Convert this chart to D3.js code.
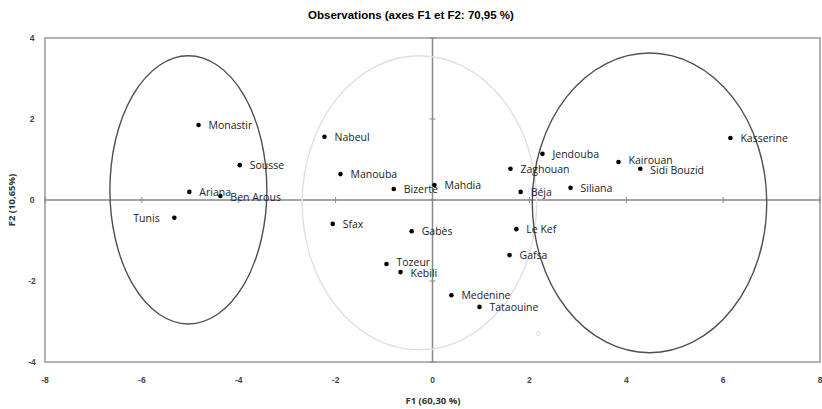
<!DOCTYPE html>
<html><head><meta charset="utf-8">
<script src="https://cdn.jsdelivr.net/npm/d3@7"></script>
<style>body{margin:0;background:#fff}svg{display:block}</style>
</head><body>
<script>
const names = ["Monastir","Sousse","Ariana","Ben Arous","Tunis","Nabeul","Manouba","Bizerte","Mahdia","Sfax","Gabès","Tozeur","Kebili","Medenine","Tataouine","Zaghouan","Jendouba","Béja","Siliana","Kairouan","Sidi Bouzid","Kasserine","Le Kef","Gafsa"];
const f1 = [-4.83,-3.98,-5.02,-4.38,-5.33,-2.23,-1.90,-0.80,0.04,-2.06,-0.43,-0.95,-0.66,0.39,0.97,1.61,2.27,1.82,2.85,3.84,4.29,6.15,1.73,1.59];
const f2 = [1.85,0.86,0.20,0.10,-0.44,1.56,0.64,0.27,0.37,-0.59,-0.77,-1.58,-1.78,-2.35,-2.64,0.77,1.14,0.20,0.30,0.94,0.77,1.53,-0.72,-1.36];
const xTicks = [-8,-6,-4,-2,0,2,4,6,8];
const yTicks = [-4,-2,0,2,4];
// ellipses (data units): centre F1, centre F2, radius F1, radius F2
const ellCx = [-5.04,-0.27,4.48];
const ellCy = [0.25,-0.07,-0.07];
const ellRx = [1.62,2.42,2.42];
const ellRy = [3.31,3.63,3.70];
const ellColor = ["#505050","#e0e0e0","#505050"];

const W=822,H=409;
const svg=d3.select("body").append("svg").attr("width",W).attr("height",H);
const x=d3.scaleLinear().domain([-8,8]).range([45,820]);
const y=d3.scaleLinear().domain([-4,4]).range([362,38]);

svg.append("text").attr("x",411).attr("y",19).attr("text-anchor","middle")
 .attr("font-family","Liberation Sans, Arial").attr("font-weight","bold").attr("font-size",11.5)
 .text("Observations (axes F1 et F2: 70,95 %)");

svg.append("rect").attr("x",x(-8)).attr("y",y(4)).attr("width",x(8)-x(-8)).attr("height",y(-4)-y(4))
 .attr("fill","none").attr("stroke","#999").attr("stroke-width",1.5);

// zero lines
svg.append("line").attr("x1",x(-8)).attr("x2",x(8)).attr("y1",y(0)).attr("y2",y(0)).attr("stroke","#888").attr("stroke-width",1.5);
svg.append("line").attr("x1",x(0)).attr("x2",x(0)).attr("y1",y(4)).attr("y2",y(-4)).attr("stroke","#888").attr("stroke-width",1.5);
svg.selectAll(".xt").data(xTicks).enter().append("line").attr("x1",d=>x(d)).attr("x2",d=>x(d)).attr("y1",y(0)-3).attr("y2",y(0)+3).attr("stroke","#888");
svg.selectAll(".yt").data(yTicks).enter().append("line").attr("y1",d=>y(d)).attr("y2",d=>y(d)).attr("x1",x(0)-3).attr("x2",x(0)+3).attr("stroke","#888");

// tick labels
svg.selectAll(".xl").data(xTicks).enter().append("text").attr("x",d=>x(d)).attr("y",383).attr("text-anchor","middle")
 .attr("font-family","Liberation Sans, Arial").attr("font-size",8.5).attr("font-weight","bold").attr("fill","#444").text(d=>d);
svg.selectAll(".yl").data(yTicks).enter().append("text").attr("x",32).attr("y",d=>y(d)+3).attr("text-anchor","middle")
 .attr("font-family","Liberation Sans, Arial").attr("font-size",8.5).attr("font-weight","bold").attr("fill","#444").text(d=>d);

svg.append("text").attr("x",433).attr("y",404).attr("text-anchor","middle")
 .attr("font-family","Open Sans, Liberation Sans").attr("font-weight","bold").attr("font-size",9.5).attr("fill","#333").text("F1 (60,30 %)");
svg.append("text").attr("transform","translate(15,200) rotate(-90)").attr("text-anchor","middle")
 .attr("font-family","Open Sans, Liberation Sans").attr("font-weight","bold").attr("font-size",9.5).attr("fill","#333").text("F2 (10,65%)");

// ellipses
svg.selectAll(".ell").data(ellCx).enter().append("ellipse")
 .attr("cx",(d)=>x(d)).attr("cy",(d,i)=>y(ellCy[i]))
 .attr("rx",(d,i)=>x(ellRx[i])-x(0)).attr("ry",(d,i)=>y(0)-y(ellRy[i]))
 .attr("fill","none").attr("stroke",(d,i)=>ellColor[i]).attr("stroke-width",1.4);
svg.append("circle").attr("cx",x(2.18)).attr("cy",y(-3.3)).attr("r",2).attr("fill","none").attr("stroke","#ddd");

// points
const dyMap = {"Ben Arous":5,"Tozeur":2.5,"Kebili":5,"Kairouan":2.5,"Sidi Bouzid":5};
const data=names.map((n,i)=>({n,x:f1[i],y:f2[i]}));
svg.selectAll(".pt").data(data).enter().append("circle").attr("cx",d=>x(d.x)).attr("cy",d=>y(d.y)).attr("r",2.3).attr("fill","#000");
svg.selectAll(".lb").data(data).enter().append("text")
 .attr("x",d=>d.n==="Tunis"? x(d.x)-41 : x(d.x)+10)
 .attr("y",d=>y(d.y)+(dyMap[d.n]!==undefined?dyMap[d.n]:3.8))
 .attr("font-family","Open Sans, Liberation Sans").attr("font-size",10.5).attr("fill","#222").text(d=>d.n);
</script>
</body></html>
